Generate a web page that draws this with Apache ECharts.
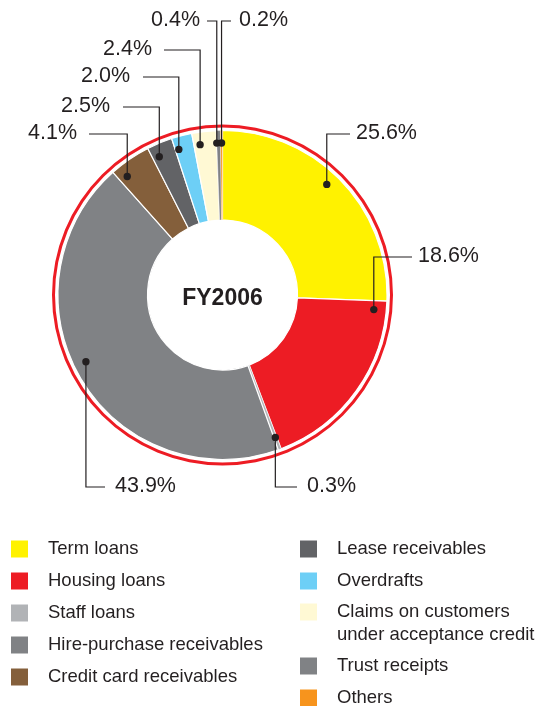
<!DOCTYPE html>
<html>
<head>
<meta charset="utf-8">
<title>FY2006 loan mix</title>
<script src="https://cdn.jsdelivr.net/npm/echarts@6/dist/echarts.min.js"></script>
<style>
  html, body { margin: 0; padding: 0; background: #fff; }
  #chart { width: 543px; height: 706px; }
</style>
</head>
<body>
<div id="chart"></div>
<script>
// loans by type, FY2006 (% of total)
var categories = ['Term loans', 'Housing loans', 'Staff loans', 'Hire-purchase receivables',
  'Credit card receivables', 'Lease receivables', 'Overdrafts',
  'Claims on customers under acceptance credit', 'Trust receipts', 'Others'];
var shares = [25.6, 18.6, 0.3, 43.9, 4.1, 2.5, 2.0, 2.4, 0.4, 0.2];
var yearLabel = 'FY2006';

var colors = ['#fff200', '#ed1c24', '#b1b3b6', '#808285', '#845f3b',
  '#626366', '#6dcff6', '#fff9d4', '#808285', '#f7941d'];

// layout only: where the dot sits inside each slice (0 = start .. 1 = end)
// and each label's anchor [line end x, elbow y, text x]
var dotAt = [0.47, 0.05, 0.5, 0.53, 0.2, 0.27, 0.18, 0.27, 0, 0.5];
var labelSpots = [
  [350, 134, 356], [412, 257, 418], [297, 487, 307], [105, 487, 115], [89, 134, 77],
  [123, 107, 110], [143, 77, 130], [164, 50, 152], [207, 21, 200], [231, 21, 239]
];

var cx = 222.5, cy = 295, rIn = 75, rOut = 164.5, dotR = 152;
var font = "'Liberation Sans', Arial, Helvetica, sans-serif";
var ink = '#231f20';

var total = shares.reduce(function (a, b) { return a + b; }, 0);
var dotAngles = [];  // 0..100 around the circle
var acc = 0;
shares.forEach(function (v, i) {
  dotAngles.push((acc + v * dotAt[i]) / total * 100);
  acc += v;
});

var chart = echarts.init(document.getElementById('chart'));

function legendBox(left, top, names, extra) {
  var box = {
    orient: 'vertical',
    left: left,
    top: top,
    height: 200,
    padding: 0,
    icon: 'rect',
    itemWidth: 17,
    itemHeight: 17,
    itemGap: 9,
    selectedMode: false,
    itemStyle: { borderWidth: 0 },
    textStyle: {
      fontFamily: font,
      fontSize: 18.5,
      color: ink,
      lineHeight: 23,
      padding: [0, 0, 0, 15]
    },
    data: names
  };
  return Object.assign(box, extra || {});
}

chart.setOption({
  animation: false,
  polar: { center: [cx, cy], radius: rOut },
  angleAxis: {
    type: 'value', min: 0, max: 100, startAngle: 90, clockwise: true,
    show: false, splitLine: { show: false }
  },
  radiusAxis: { type: 'value', min: 0, max: rOut, show: false, splitLine: { show: false } },
  legend: [
    legendBox(11, 537.5, categories.slice(0, 5)),
    legendBox(300, 537.5, categories.slice(5, 7)),
    // two-line item: a blank first line keeps the icon level with "Claims on customers"
    legendBox(300, 577.5, categories.slice(7, 8), {
      formatter: function (name) { return '\n' + name.replace(' under', '\nunder'); }
    }),
    legendBox(300, 654.5, categories.slice(8))
  ],
  series: [{
    // red outer ring, year in the middle
    type: 'pie',
    center: [cx, cy],
    radius: [167.5, 170.5],
    silent: true,
    emphasis: { disabled: true },
    label: {
      show: true,
      position: 'center',
      formatter: '{b}',
      fontFamily: font,
      fontSize: 23,
      fontWeight: 'bold',
      color: ink,
      offset: [0, 3.5]
    },
    labelLine: { show: false },
    data: [{ name: yearLabel, value: 1, itemStyle: { color: '#ed1c24' } }]
  }, {
    type: 'pie',
    center: [cx, cy],
    radius: [rIn, rOut],
    startAngle: 90,
    clockwise: true,
    emphasis: { disabled: true },
    itemStyle: { borderColor: '#fff', borderWidth: 1.2 },
    label: { show: false },
    labelLine: { show: false },
    data: categories.map(function (name, i) {
      var item = { name: name, value: shares[i], itemStyle: { color: colors[i] } };
      if (shares[i] < 1) item.itemStyle.borderWidth = 0.4;
      return item;
    })
  }, {
    // dot + elbow leader line + percentage for every slice
    type: 'custom',
    coordinateSystem: 'polar',
    silent: true,
    z: 10,
    dimensions: ['r', 'angle', 'share'],
    encode: { radius: 0, angle: 1 },
    data: shares.map(function (v, i) { return [dotR, dotAngles[i], v]; }),
    renderItem: function (params, api) {
      var i = params.dataIndex;
      var p = api.coord([api.value(0), api.value(1)]);
      var s = labelSpots[i];
      return {
        type: 'group',
        children: [{
          type: 'polyline',
          shape: { points: [p, [p[0], s[1]], [s[0], s[1]]] },
          style: { fill: null, stroke: ink, lineWidth: 1.2 }
        }, {
          type: 'circle',
          shape: { cx: p[0], cy: p[1], r: 3.7 },
          style: { fill: ink }
        }, {
          type: 'text',
          x: s[2],
          y: s[1] - 1,
          style: {
            text: api.value(2).toFixed(1) + '%',
            fontFamily: font,
            fontSize: 21.5,
            fill: ink,
            align: s[2] > s[0] ? 'left' : 'right',
            verticalAlign: 'middle'
          }
        }]
      };
    }
  }]
});
</script>
</body>
</html>
